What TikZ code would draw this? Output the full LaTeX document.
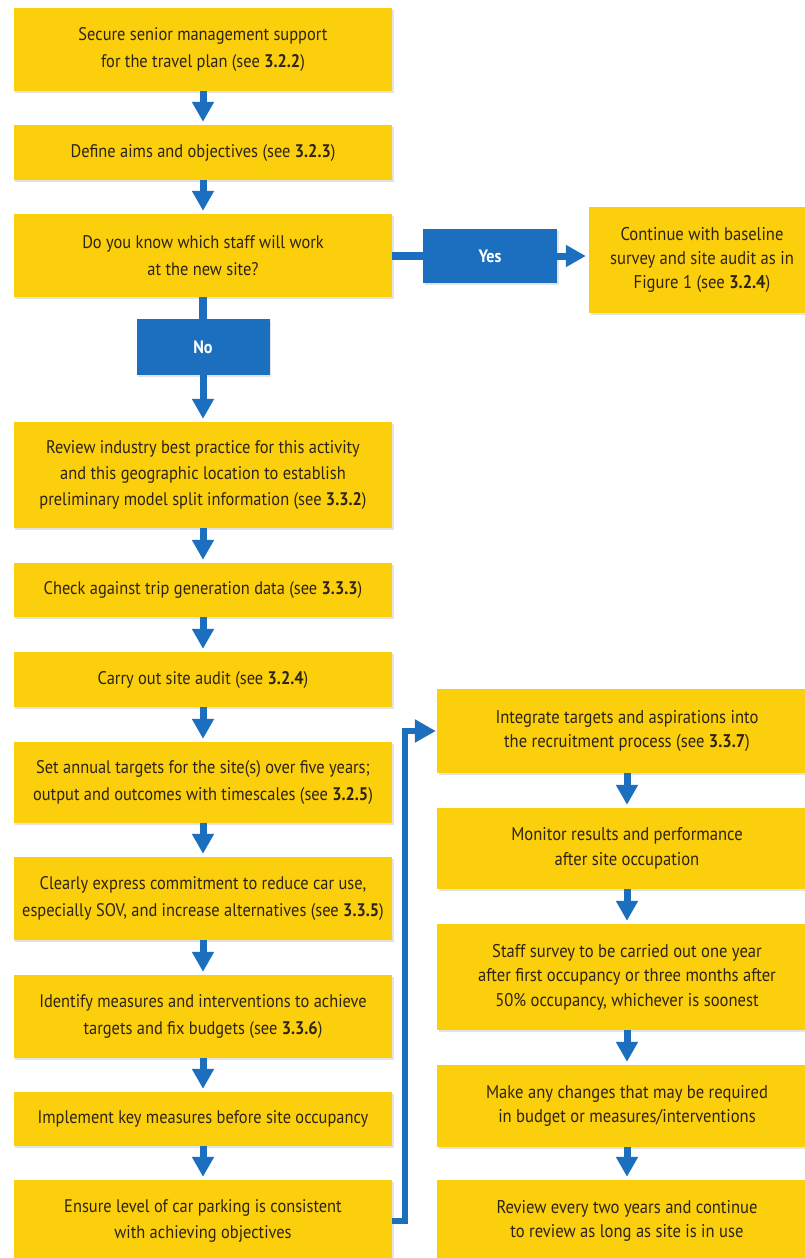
\documentclass[tikz,border=0pt]{standalone}
\usepackage{fontspec}
\setmainfont{PT Sans}[FakeStretch=0.9]
\usetikzlibrary{arrows.meta,shadows,calc}
\definecolor{boxyellow}{HTML}{FBCF0C}
\definecolor{flowblue}{HTML}{1C6EBF}
\definecolor{inkbrown}{HTML}{2E2416}
\begin{document}
\begin{tikzpicture}[x=1bp,y=-1bp,
  box/.style={fill=boxyellow, text=inkbrown, align=center, inner sep=0pt,
    drop shadow={shadow xshift=1.5bp,shadow yshift=-2bp,opacity=0.22}},
  lbox/.style={box, minimum width=378bp, font=\fontsize{18.3}{26.5}\selectfont},
  rbox/.style={box, minimum width=380bp, font=\fontsize{18.5}{24.5}\selectfont},
  ans/.style={fill=flowblue, text=white, inner sep=0pt,
    font=\fontsize{18}{20}\selectfont\bfseries,
    drop shadow={shadow xshift=1.5bp,shadow yshift=-2bp,opacity=0.22}},
  conn/.style={draw=flowblue, line width=8bp},
  flow/.style={draw=flowblue, line width=7bp, shorten >=3bp,
    -{Triangle[width=21bp,length=20bp]}},
  loopflow/.style={draw=flowblue, line width=6bp, shorten >=1bp,
    -{Triangle[width=22bp,length=21bp]}}
]
\useasboundingbox (0,0) rectangle (805,1258);
\fill[white] (0,0) rectangle (805,1258);

% left column
\node[lbox, minimum height=83bp] (b1) at (203,49.5)
  {Secure senior management support\\for the travel plan (see \textbf{3.2.2})};
\node[lbox, minimum height=55bp] (b2) at (203,152.5)
  {Define aims and objectives (see \textbf{3.2.3})};
\node[lbox, minimum height=83bp] (b3) at (203,255.5)
  {Do you know which staff will work\\at the new site?};
\node[ans, minimum width=133bp, minimum height=56bp] (no) at (203,347) {No};
\node[lbox, minimum height=106bp] (b4) at (203,475)
  {Review industry best practice for this activity\\and this geographic location to establish\\preliminary model split information (see \textbf{3.3.2})};
\node[lbox, minimum height=54bp] (b5) at (203,590)
  {Check against trip generation data (see \textbf{3.3.3})};
\node[lbox, minimum height=55bp] (b6) at (203,679.5)
  {Carry out site audit (see \textbf{3.2.4})};
\node[lbox, minimum height=81bp] (b7) at (203,782.5)
  {Set annual targets for the site(s) over five years;\\output and outcomes with timescales (see \textbf{3.2.5})};
\node[lbox, minimum height=83bp] (b8) at (203,898.5)
  {Clearly express commitment to reduce car use,\\especially SOV, and increase alternatives (see \textbf{3.3.5})};
\node[lbox, minimum height=83bp] (b9) at (203,1016.5)
  {Identify measures and interventions to achieve\\targets and fix budgets (see \textbf{3.3.6})};
\node[lbox, minimum height=54bp] (b10) at (203,1119)
  {Implement key measures before site occupancy};
\node[lbox, minimum height=82bp] (b11) at (203,1221)
  {Ensure level of car parking is consistent\\with achieving objectives};

% yes branch
\node[ans, minimum width=134bp, minimum height=54bp] (yes) at (490,256) {Yes};
\node[rbox, minimum width=226bp, minimum height=106bp] (cont) at (702,260)
  {Continue with baseline\\survey and site audit as in\\Figure 1 (see \textbf{3.2.4})};

% right column
\node[rbox, minimum height=84bp] (r1) at (627,731)
  {Integrate targets and aspirations into\\the recruitment process (see \textbf{3.3.7})};
\node[rbox, minimum height=81bp] (r2) at (627,848.5)
  {Monitor results and performance\\after site occupation};
\node[rbox, minimum height=106bp] (r3) at (627,977)
  {Staff survey to be carried out one year\\after first occupancy or three months after\\50\% occupancy, whichever is soonest};
\node[rbox, minimum height=82bp] (r4) at (627,1106)
  {Make any changes that may be required\\in budget or measures/interventions};
\node[rbox, minimum height=82bp] (r5) at (627,1221)
  {Review every two years and continue\\to review as long as site is in use};

% connectors
\draw[flow] (b1.south) -- (b2.north);
\draw[flow] (b2.south) -- (b3.north);
\draw[conn] (b3.south) -- (no.north);
\draw[flow] (no.south) -- (b4.north);
\draw[flow] (b4.south) -- (b5.north);
\draw[flow] (b5.south) -- (b6.north);
\draw[flow] (b6.south) -- (b7.north);
\draw[flow] (b7.south) -- (b8.north);
\draw[flow] (b8.south) -- (b9.north);
\draw[flow] (b9.south) -- (b10.north);
\draw[flow] (b10.south) -- (b11.north);

\draw[conn] (b3.east |- yes.west) -- (yes.west);
\draw[flow] (yes.east) -- (cont.west |- yes.east);

\draw[loopflow] (b11.east) -- ++(13,0) |- (r1.west);

\draw[flow] (r1.south) -- (r2.north);
\draw[flow] (r2.south) -- (r3.north);
\draw[flow] (r3.south) -- (r4.north);
\draw[flow] (r4.south) -- (r5.north);
\end{tikzpicture}
\end{document}
